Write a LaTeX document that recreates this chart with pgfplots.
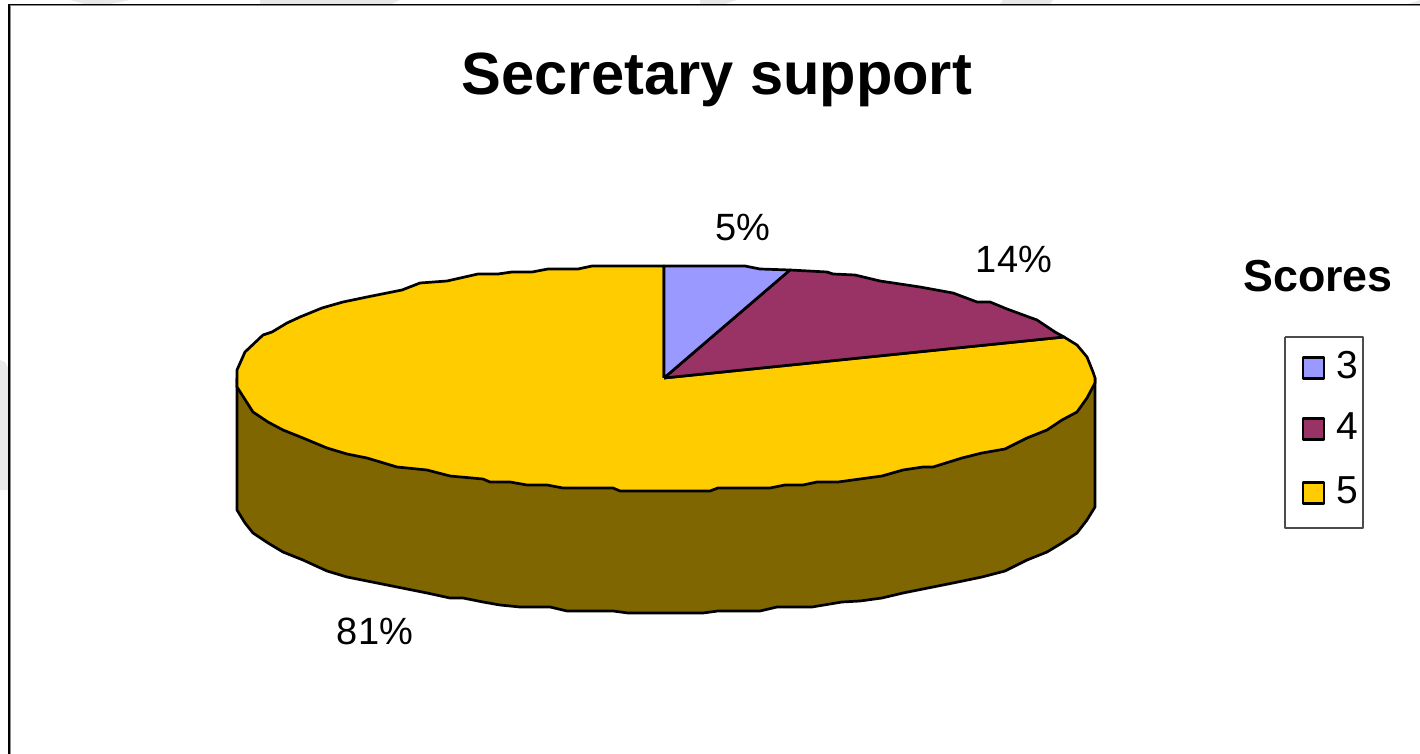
\documentclass[border=0pt]{standalone}
\usepackage{pgfplots}
\pgfplotsset{compat=1.18}
\usepackage{fontspec}
\setmainfont{Liberation Sans}
\definecolor{scorethree}{HTML}{9999FF}
\definecolor{scorefour}{HTML}{993366}
\definecolor{scorefive}{HTML}{FFCC00}
\definecolor{rim}{HTML}{806600}
\definecolor{wash}{HTML}{E8E8E8}
\begin{document}
\begin{tikzpicture}
\begin{axis}[
scale only axis,
width=710pt,
height=377pt,
xmin=0,xmax=1420,
ymin=0,ymax=754,
y dir=reverse,
axis lines=none,
every axis plot/.append style={line join=round}]
% faint shapes behind the slide
\addplot[fill=wash,draw=none] coordinates {(0,360)(5,362)(8,368)(8,490)(0,490)(0,360)};
\addplot[fill=wash,draw=none] coordinates {(70,0)(130,0)(110,4)(85,4)(70,0)};
\addplot[fill=wash,draw=none] coordinates {(260,0)(400,0)(392,4)(260,4)(260,0)};
\addplot[fill=wash,draw=none] coordinates {(700,0)(737,0)(725,4)(700,4)(700,0)};
\addplot[fill=wash,draw=none] coordinates {(1003,0)(1053,0)(1050,4)(1000,4)(1003,0)};
\addplot[fill=wash,draw=none] coordinates {(1408,4)(1420,0)(1420,4)(1408,4)};
% frame
\addplot[draw=black!45,line width=0.5pt] coordinates {(10,754)(10,5.5)(1420,5.5)};
\addplot[draw=black,line width=0.7pt] coordinates {(9,754)(9,4.5)(1420,4.5)};
% side of the pie
\addplot[fill=rim,draw=black,line width=1.35pt] coordinates {
(237,378)(237,510)(245,523)(253,533)(268,543)(283,552)(303,560)(327,571)(347,577)
(377,583)(402,588)(427,593)(450,598)(463,598)(483,602)(500,605)(520,607)(550,607)
(567,611)(613,611)(628,613)(703,613)(718,611)(760,611)(777,607)(812,607)(842,602)
(860,601)(882,598)(903,593)(923,589)(953,583)(982,577)(1005,571)(1027,560)(1047,552)
(1062,543)(1077,533)(1087,520)(1095,507)(1095,378)(237,378)};
% score 5
\addplot[fill=scorefive,draw=black,line width=1.35pt] coordinates {
(664,378)(1064,337)(1077,345)(1087,357)(1093,372)(1095,378)(1095,383)(1087,398)(1077,412)
(1062,420)(1047,430)(1027,438)(1005,449)(982,453)(962,458)(933,467)(923,467)(903,470)
(882,476)(860,479)(838,482)(817,482)(803,485)(785,485)(770,488)(718,488)(710,491)
(620,491)(613,488)(563,488)(547,485)(527,485)(510,482)(490,482)(483,479)(450,476)
(427,470)(397,467)(367,458)(347,454)(327,448)(303,438)(283,430)(268,422)(253,412)
(237,387)(237,377)(237,370)(245,352)(263,335)(272,332)(287,323)(300,317)(322,308)
(343,302)(367,297)(402,290)(420,283)(447,281)(478,274)(498,274)(512,272)(532,272)
(548,269)(578,269)(592,266)(664,266)(664,378)};
% score 4
\addplot[fill=scorefour,draw=black,line width=1.35pt] coordinates {
(664,378)(790,270)(827,272)(833,274)(855,275)(880,281)(920,287)(953,293)(977,302)
(990,302)(1007,309)(1037,320)(1055,332)(1064,337)(664,378)};
% score 3
\addplot[fill=scorethree,draw=black,line width=1.35pt] coordinates {
(664,378)(664,266)(745,266)(760,269)(790,270)(664,378)};
% data labels
\addplot[draw=none,nodes near coords,point meta=explicit symbolic,
  every node near coord/.append style={anchor=center,inner sep=0pt,font=\fontsize{19}{19}\selectfont}]
  coordinates {(743,228)[5\%] (1014,259)[14\%] (375,631)[81\%]};
% legend
\addplot[fill=white,draw=black!70,line width=0.6pt] coordinates {(1285,337)(1363,337)(1363,528)(1285,528)(1285,337)};
\addplot[only marks,mark=square*,mark size=5.2pt,mark options={fill=scorethree,draw=black,line width=1.3pt}] coordinates {(1313.5,368)};
\addplot[only marks,mark=square*,mark size=5.2pt,mark options={fill=scorefour,draw=black,line width=1.3pt}] coordinates {(1313.5,429)};
\addplot[only marks,mark=square*,mark size=5.2pt,mark options={fill=scorefive,draw=black,line width=1.3pt}] coordinates {(1313.5,493)};
\addplot[draw=none,nodes near coords,point meta=explicit symbolic,
  every node near coord/.append style={anchor=center,inner sep=0pt,font=\fontsize{19.5}{19.5}\selectfont}]
  coordinates {(1347,365)[3] (1347,426)[4] (1347,490)[5]};
\node[font=\fontsize{29.8}{30}\selectfont\bfseries,inner sep=0pt] at (axis cs:717,80) {Secretary support};
\node[font=\fontsize{22.4}{22}\selectfont\bfseries,inner sep=0pt] at (axis cs:1318,276) {Scores};
\end{axis}
\end{tikzpicture}
\end{document}
